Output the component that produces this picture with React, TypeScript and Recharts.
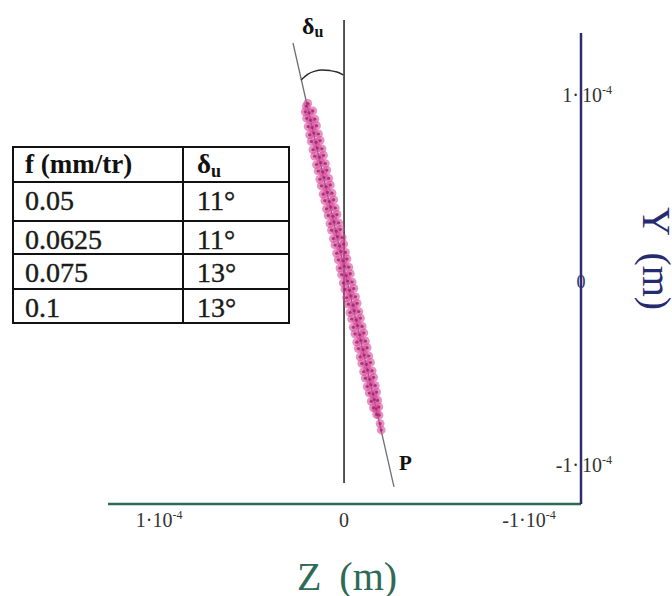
import React from 'react';
import { ScatterChart, Scatter, XAxis, YAxis, ReferenceLine } from 'recharts';

const SERIF = 'Liberation Serif, Times New Roman, DejaVu Serif, serif';
const serif = { fontFamily: SERIF };

// All coordinates in micrometres (axis labels show metres: 100 µm = 1·10^-4 m)
const zTicks = [100, 0, -100];
const zTickBase = ['1·10', '0', '-1·10'];
const zTickExp = ['-4', '', '-4'];

const yTicks = [100, 0, -100];
const yTickPre = ['1·', '', '-1·'];
const yTickBase = ['10', '0', '10'];
const yTickExp = ['-4', '', '-4'];

const feedRates = ['0.05', '0.0625', '0.075', '0.1'];
const deltaU = ['11°', '11°', '13°', '13°'];

// measured trajectory points [Z, Y] (µm)
const measuredPoints: [number, number][] = [
  [19.6, 96.5], [20.4, 95],
  [16.9, 92.5], [18.9, 91.5], [21.0, 92],
  [15.8, 88], [18.1, 87.5], [20.2, 88.5],
  [14.9, 84.5], [17.2, 83.5], [19.4, 84],
  [13.8, 80], [16.3, 80.5], [18.6, 79.5],
  [12.9, 76.5], [15.1, 75.5], [17.7, 76],
  [11.9, 72], [14.5, 72.5], [16.8, 71.5],
  [11.1, 68.5], [13.3, 67.5], [15.9, 68],
  [10.1, 64], [12.6, 64.5], [14.9, 63.5],
  [9.3, 60.5], [11.5, 59.5], [14.0, 60],
  [8.3, 56], [10.8, 56.5], [13.1, 55.5],
  [7.4, 52.5], [9.7, 51.5], [12.3, 52],
  [6.5, 48], [9.0, 48.5], [11.3, 47.5],
  [5.6, 44.5], [7.9, 43.5], [10.4, 44],
  [4.7, 40], [7.2, 40.5], [9.5, 39.5],
  [3.8, 36.5], [6.0, 35.5], [8.6, 36],
  [2.9, 32], [5.4, 32.5], [7.6, 31.5],
  [2.0, 28.5], [4.2, 27.5], [6.8, 28],
  [1.0, 24], [3.5, 24.5], [5.8, 23.5],
  [0.2, 20.5], [2.4, 19.5], [4.9, 20],
  [-0.8, 16], [1.7, 16.5], [4.0, 15.5],
  [-1.6, 12.5], [0.6, 11.5], [3.1, 12],
  [-2.6, 8], [-0.1, 8.5], [2.2, 7.5],
  [-3.4, 4.5], [-1.2, 3.5], [1.3, 4],
  [-4.4, 0], [-1.9, 0.5], [0.4, -0.5],
  [-5.3, -3.5], [-3.0, -4.5], [-0.5, -4],
  [-6.2, -8], [-3.7, -7.5], [-1.4, -8.5],
  [-7.1, -11.5], [-4.9, -12.5], [-2.3, -12],
  [-8.0, -16], [-5.5, -15.5], [-3.2, -16.5],
  [-8.9, -19.5], [-6.7, -20.5], [-4.1, -20],
  [-9.8, -24], [-7.3, -23.5], [-5.0, -24.5],
  [-10.7, -27.5], [-8.5, -28.5], [-5.9, -28],
  [-11.6, -32], [-9.1, -31.5], [-6.9, -32.5],
  [-12.5, -35.5], [-10.3, -36.5], [-7.7, -36],
  [-13.4, -40], [-10.9, -39.5], [-8.7, -40.5],
  [-14.3, -43.5], [-12.1, -44.5], [-9.6, -44],
  [-15.2, -48], [-12.7, -47.5], [-10.6, -48.5],
  [-16.0, -51.5], [-13.9, -52.5], [-11.5, -52],
  [-16.9, -56], [-14.5, -55.5], [-12.5, -56.5],
  [-17.6, -59.5], [-15.7, -60.5], [-13.6, -60],
  [-18.2, -64], [-16.4, -63.5], [-14.7, -64.5],
  [-18.8, -67.5], [-17.3, -68.5], [-15.9, -68],
  [-18.9, -72], [-17.6, -71.5],
  [-19.5, -76.5], [-20.1, -80],
];

// fitted direction line, Z = 0 reference line, and the angle arc
const fitLine = [{ z: 27.6, y: 129.2 }, { z: -27.0, y: -110.8 }];
const zeroLine = [{ z: 0, y: 141.6 }, { z: 0, y: -108.6 }];
const arcPoints = [
  { z: 23.2, y: 109.2 }, { z: 19.5, y: 112.4 }, { z: 15.7, y: 114.0 },
  { z: 11.9, y: 114.6 }, { z: 7.6, y: 114.3 }, { z: 3.8, y: 113.5 }, { z: 0.5, y: 111.9 },
];

const zDomain = [-128.1, 127.6];
const yDomain = [-120, 134.6];

const pointData = measuredPoints.map(([z, y]) => ({ z, y }));

const ZTick = (props: any) => {
  const { x, y, payload } = props;
  const i = zTicks.indexOf(payload.value);
  return (
    <text x={x} y={y + 23} textAnchor="middle" style={serif} fontSize={20} fill="#333">
      {zTickBase[i]}
      {zTickExp[i] ? <tspan dy={-8} fontSize={12}>{zTickExp[i]}</tspan> : null}
    </text>
  );
};

const YTick = (props: any) => {
  const { x, y, payload } = props;
  const i = yTicks.indexOf(payload.value);
  if (!yTickPre[i]) {
    return (
      <text x={x} y={y + 6} textAnchor="middle" style={serif} fontSize={18} fill="#2e3170">
        {yTickBase[i]}
      </text>
    );
  }
  return (
    <g>
      <text x={x - 2} y={y + 5} textAnchor="end" style={serif} fontSize={20} fill="#333">
        {yTickPre[i]}
      </text>
      <text x={x + 1} y={y + 5} textAnchor="start" style={serif} fontSize={20} fill="#333">
        {yTickBase[i]}
        <tspan dy={-8} fontSize={12}>{yTickExp[i]}</tspan>
      </text>
    </g>
  );
};

const tableRows = [147, 182, 221, 254, 289, 323];

export default function App() {
  return (
    <div style={{ position: 'absolute', left: 0, top: 0, width: 672, height: 596, background: '#fff' }}>
      <ScatterChart width={672} height={596} margin={{ top: 33, right: 90, bottom: 91, left: 108 }}>
        <XAxis
          type="number"
          dataKey="z"
          domain={zDomain}
          allowDataOverflow
          reversed
          ticks={zTicks}
          tick={<ZTick />}
          tickLine={false}
          tickSize={0}
          tickMargin={0}
          height={1}
          axisLine={{ stroke: '#2f6a56', strokeWidth: 2.5 }}
        />
        <YAxis
          type="number"
          dataKey="y"
          orientation="right"
          domain={yDomain}
          allowDataOverflow
          ticks={yTicks}
          tick={<YTick />}
          tickLine={false}
          tickSize={0}
          tickMargin={0}
          width={1}
          axisLine={{ stroke: '#2c2e6c', strokeWidth: 2.5 }}
        />
        <ReferenceLine
          segment={[{ x: zeroLine[0].z, y: zeroLine[0].y }, { x: zeroLine[1].z, y: zeroLine[1].y }]}
          ifOverflow="visible"
          stroke="#1e1e1e"
          strokeWidth={1.5}
        />
        <Scatter
          data={pointData}
          isAnimationActive={false}
          shape={(p: any) => <circle cx={p.cx} cy={p.cy} r={4.4} fill="#d8489a" fillOpacity={0.6} />}
        />
        <Scatter
          data={pointData}
          isAnimationActive={false}
          shape={(p: any) => <circle cx={p.cx} cy={p.cy} r={1.6} fill="#98246a" fillOpacity={0.8} />}
        />
        <ReferenceLine
          segment={[{ x: fitLine[0].z, y: fitLine[0].y }, { x: fitLine[1].z, y: fitLine[1].y }]}
          ifOverflow="visible"
          stroke="#6e6e6e"
          strokeWidth={1.3}
        />
        <Scatter
          data={arcPoints}
          isAnimationActive={false}
          line={{ stroke: '#2a2a2a', strokeWidth: 1.4 }}
          lineType="joint"
          lineJointType="monotoneX"
          shape={() => <g />}
        />
      </ScatterChart>
      <svg
        width={672}
        height={596}
        style={{ position: 'absolute', left: 0, top: 0, pointerEvents: 'none' }}
      >
        <text x={302} y={34} style={serif} fontSize={24} fontWeight="bold" fill="#111">
          δ<tspan dy={3} fontSize={16}>u</tspan>
        </text>
        <text x={399} y={470} style={serif} fontSize={21} fontWeight="bold" fill="#111">P</text>
        <text x={347} y={590} textAnchor="middle" style={serif} fontSize={40} fill="#2f6a56" wordSpacing={8}>
          Z (m)
        </text>
        <text transform="translate(643,207) rotate(90)" style={serif} fontSize={40} fill="#262a6e" wordSpacing={8}>
          Y (m)
        </text>
        <rect x={13} y={147} width={276} height={176} fill="#fff" stroke="#111" strokeWidth={2} />
        {tableRows.slice(1, -1).map((ry) => (
          <line key={ry} x1={13} x2={289} y1={ry} y2={ry} stroke="#111" strokeWidth={2} />
        ))}
        <line x1={183} x2={183} y1={147} y2={323} stroke="#111" strokeWidth={2} />
        <text x={25} y={173} style={serif} fontSize={27} fontWeight="bold" fill="#111">f (mm/tr)</text>
        <text x={197} y={173} style={serif} fontSize={27} fontWeight="bold" fill="#111">
          δ<tspan dy={4} fontSize={18}>u</tspan>
        </text>
        {feedRates.map((f, i) => (
          <text key={f} x={25} y={tableRows[i + 1] + 28} style={serif} fontSize={28} fill="#1a1a1a" stroke="#1a1a1a" strokeWidth={0.4}>{f}</text>
        ))}
        {deltaU.map((d, i) => (
          <text key={i} x={197} y={tableRows[i + 1] + 28} style={serif} fontSize={28} fill="#1a1a1a" stroke="#1a1a1a" strokeWidth={0.4}>{d}</text>
        ))}
      </svg>
    </div>
  );
}
